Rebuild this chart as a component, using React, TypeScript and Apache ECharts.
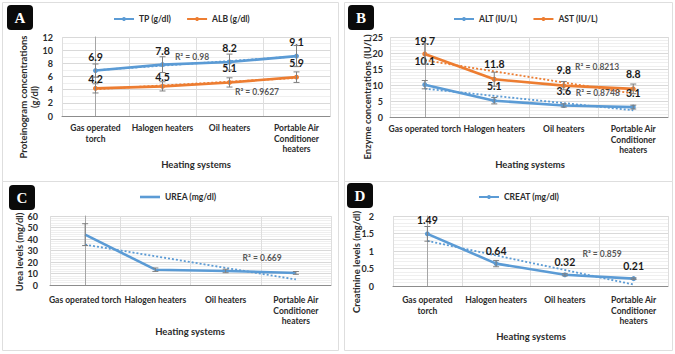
import React, { useEffect, useRef } from "react";
import * as echarts from "echarts";

// Heating systems compared in every panel
const categories = [
  "Gas operated torch",
  "Halogen heaters",
  "Oil heaters",
  "Portable Air Conditioner heaters",
];

// A: proteinogram (g/dl)
const tpValues = [6.9, 7.8, 8.2, 9.1];
const tpErrors = [1.0, 1.2, 1.2, 1.6];
const albValues = [4.2, 4.5, 5.1, 5.9];
const albErrors = [0.7, 0.7, 0.7, 0.8];
const tpR2 = "R² = 0.98";
const albR2 = "R² = 0.9627";

// B: liver enzymes (IU/L)
const altValues = [10.1, 5.1, 3.6, 3.1];
const altErrors = [1.3, 1.0, 0.5, 0.6];
const astValues = [19.7, 11.8, 9.8, 8.8];
const astErrors = [3.2, 2.2, 1.3, 1.5];
const astR2 = "R² = 0.8213";
const altR2 = "R² = 0.8748";

// C: urea (mg/dl)
const ureaValues = [43.8, 13.3, 12.2, 10.5];
const ureaErrors = [9.5, 1.5, 1.5, 1.2];
const ureaR2 = "R² = 0.669";

// D: creatinine (mg/dl)
const creatValues = [1.49, 0.64, 0.32, 0.21];
const creatErrors = [0.21, 0.09, 0.03, 0.02];
const creatR2 = "R² = 0.859";

// Value-axis ranges [max, interval]
const proteinAxis = [12, 2];
const enzymeAxis = [25, 5];
const ureaAxis = [60, 10];
const creatAxis = [2, 0.5];

const BLUE = "#5b9bd5";
const ORANGE = "#ed7d31";
const TEXT = "#2b2b2b";
const LABEL = "#1a1a1a";
const FONT = "Lato, 'Liberation Sans', sans-serif";

type SeriesSpec = {
  name: string;
  values: number[];
  errors: number[];
  color: string;
  symbol: boolean;
  labelGap: number[];
  labelBold: boolean;
};

type PanelSpec = {
  letter: string;
  frame: number[];
  badge: number[];
  grid: { left: number; top: number; width: number; height: number };
  axis: number[];
  minorSplit: number;
  yLabelMargin: number;
  xLabelMargin: number;
  wrapTorch: boolean;
  yName: string;
  yNameAt: number[];
  xNameAt: number[];
  legendAt: number[];
  series: SeriesSpec[];
  r2: { text: string; at: number[] }[];
};

// Least-squares line evaluated at each category position (Excel linear trendline)
function linearFit(values: number[]): number[] {
  const n = values.length;
  const xs = values.map((_, i) => i + 1);
  const mx = xs.reduce((a, b) => a + b, 0) / n;
  const my = values.reduce((a, b) => a + b, 0) / n;
  let sxy = 0;
  let sxx = 0;
  for (let i = 0; i < n; i++) {
    sxy += (xs[i] - mx) * (values[i] - my);
    sxx += (xs[i] - mx) * (xs[i] - mx);
  }
  const slope = sxy / sxx;
  return xs.map((x) => +(my + slope * (x - mx)).toFixed(4));
}

function wrapCategory(name: string, wrapTorch: boolean): string {
  if (name === "Portable Air Conditioner heaters") return "Portable Air\nConditioner\nheaters";
  if (wrapTorch && name === "Gas operated torch") return "Gas operated\ntorch";
  return name;
}

const panels: PanelSpec[] = [
  {
    letter: "A",
    frame: [2.5, 2.5, 336, 179],
    badge: [7, 5],
    grid: { left: 62, top: 37, width: 268, height: 79 },
    axis: proteinAxis,
    minorSplit: 2,
    yLabelMargin: 9,
    xLabelMargin: 7,
    wrapTorch: true,
    yName: "Proteinogram concentrations\n(g/dl)",
    yNameAt: [29, 97],
    xNameAt: [196, 164],
    legendAt: [113, 14.5],
    series: [
      { name: "TP (g/dl)", values: tpValues, errors: tpErrors, color: BLUE, symbol: true, labelGap: [6, 6, 6, 6], labelBold: true },
      { name: "ALB (g/dl)", values: albValues, errors: albErrors, color: ORANGE, symbol: true, labelGap: [1, 1, 6, 6], labelBold: true },
    ],
    r2: [
      { text: tpR2, at: [1.44, 8.96] },
      { text: albR2, at: [2.41, 3.65] },
    ],
  },
  {
    letter: "B",
    frame: [344.5, 2.5, 328, 179],
    badge: [348, 5],
    grid: { left: 390, top: 37, width: 278, height: 80 },
    axis: enzymeAxis,
    minorSplit: 5,
    yLabelMargin: 7,
    xLabelMargin: 7,
    wrapTorch: false,
    yName: "Enzyme concentrations (IU/L)",
    yNameAt: [367, 97],
    xNameAt: [530, 164],
    legendAt: [453, 14.5],
    series: [
      { name: "ALT (IU/L)", values: altValues, errors: altErrors, color: BLUE, symbol: true, labelGap: [16, 7, 6, 6], labelBold: true },
      { name: "AST (IU/L)", values: astValues, errors: astErrors, color: ORANGE, symbol: true, labelGap: [5, 7, 8, 7], labelBold: true },
    ],
    r2: [
      { text: astR2, at: [2.48, 15.6] },
      { text: altR2, at: [2.49, 7.5] },
    ],
  },
  {
    letter: "C",
    frame: [2.5, 181.5, 336, 169],
    badge: [9, 185],
    grid: { left: 50, top: 216, width: 281, height: 69 },
    axis: ureaAxis,
    minorSplit: 5,
    yLabelMargin: 12,
    xLabelMargin: 10,
    wrapTorch: false,
    yName: "Urea levels (mg/dl)",
    yNameAt: [19, 252],
    xNameAt: [190, 331],
    legendAt: [140, 192.5],
    series: [
      { name: "UREA (mg/dl)", values: ureaValues, errors: ureaErrors, color: BLUE, symbol: false, labelGap: [6, 7, 6, 7], labelBold: false },
    ],
    r2: [{ text: ureaR2, at: [2.52, 23.5] }],
  },
  {
    letter: "D",
    frame: [344.5, 181.5, 328, 169],
    badge: [347, 183],
    grid: { left: 393, top: 216, width: 275, height: 70 },
    axis: creatAxis,
    minorSplit: 5,
    yLabelMargin: 19,
    xLabelMargin: 9,
    wrapTorch: true,
    yName: "Creatinine levels (mg/dl)",
    yNameAt: [356, 262],
    xNameAt: [531, 336],
    legendAt: [478, 192.5],
    series: [
      { name: "CREAT (mg/dl)", values: creatValues, errors: creatErrors, color: BLUE, symbol: true, labelGap: [6, 5, 5, 5], labelBold: true },
    ],
    r2: [{ text: creatR2, at: [2.54, 0.91] }],
  },
];

function errorBarItem(params: any, api: any) {
  const x = api.value(0);
  const top = api.coord([x, api.value(2)]);
  const bot = api.coord([x, api.value(1)]);
  const w = 3;
  const style = { stroke: "#7f7f7f", lineWidth: 1 };
  return {
    type: "group",
    children: [
      { type: "line", shape: { x1: top[0], y1: top[1], x2: bot[0], y2: bot[1] }, style },
      { type: "line", shape: { x1: top[0] - w, y1: top[1], x2: top[0] + w, y2: top[1] }, style },
      { type: "line", shape: { x1: bot[0] - w, y1: bot[1], x2: bot[0] + w, y2: bot[1] }, style },
    ],
  };
}

function buildOption() {
  const grid: any[] = [];
  const xAxis: any[] = [];
  const yAxis: any[] = [];
  const legend: any[] = [];
  const series: any[] = [];
  const graphic: any[] = [];

  panels.forEach((p, i) => {
    grid.push({ ...p.grid, containLabel: false });
    xAxis.push({
      type: "category",
      gridIndex: i,
      data: categories,
      boundaryGap: true,
      axisLine: { lineStyle: { color: "#8c8c8c", width: 1 } },
      axisTick: { show: false },
      axisLabel: {
        interval: 0,
        margin: p.xLabelMargin,
        fontSize: 8.5,
        fontWeight: "bold",
        fontFamily: FONT,
        color: TEXT,
        lineHeight: 10.5,
        formatter: (v: string) => wrapCategory(v, p.wrapTorch),
      },
      splitLine: { show: true, interval: 0, lineStyle: { color: "#dedede" } },
    });
    xAxis.push({ type: "value", gridIndex: i, min: -0.5, max: 3.5, show: false });
    yAxis.push({
      type: "value",
      gridIndex: i,
      min: 0,
      max: p.axis[0],
      interval: p.axis[1],
      axisLine: { show: true, lineStyle: { color: "#a6a6a6" } },
      axisTick: { show: false },
      axisLabel: {
        margin: p.yLabelMargin,
        fontSize: 9,
        fontWeight: "bold",
        fontFamily: FONT,
        color: TEXT,
      },
      splitLine: { lineStyle: { color: "#d9d9d9" } },
      minorTick: { show: false, splitNumber: p.minorSplit },
      minorSplitLine: { show: true, lineStyle: { color: "#efefef" } },
    });
    const lineOnly = p.series.every((s) => !s.symbol);
    legend.push({
      data: p.series.map((s) => (lineOnly ? { name: s.name, icon: "rect" } : s.name)),
      left: p.legendAt[0],
      top: p.legendAt[1],
      padding: 0,
      itemWidth: 20,
      itemHeight: lineOnly ? 2.6 : 5,
      itemGap: 15,
      textStyle: { fontSize: 8.5, fontWeight: "bold", fontFamily: FONT, color: TEXT },
    });

    p.series.forEach((s) => {
      series.push({
        type: "line",
        name: s.name + " trendline",
        xAxisIndex: i * 2,
        yAxisIndex: i,
        data: linearFit(s.values),
        symbol: "none",
        silent: true,
        lineStyle: { color: s.color, width: 1.8, type: [2, 2] },
        z: 2,
      });
      series.push({
        type: "line",
        name: s.name,
        xAxisIndex: i * 2,
        yAxisIndex: i,
        data: s.values.map((v, k) => ({ value: v, label: { distance: s.labelGap[k] } })),
        color: s.color,
        symbol: s.symbol ? "circle" : "none",
        symbolSize: 5,
        lineStyle: { color: s.color, width: 2.6 },
        itemStyle: { color: s.color },
        label: {
          show: true,
          position: "top",
          fontSize: 10.5,
          fontWeight: s.labelBold ? "bold" : "normal",
          fontFamily: FONT,
          color: LABEL,
        },
        z: 3,
      });
      series.push({
        type: "custom",
        name: s.name + " error",
        xAxisIndex: i * 2,
        yAxisIndex: i,
        data: s.values.map((v, k) => [k, v - s.errors[k], v + s.errors[k]]),
        encode: { x: 0, y: [1, 2] },
        renderItem: errorBarItem,
        silent: true,
        z: 4,
      });
    });

    series.push({
      type: "scatter",
      name: "r2-" + p.letter,
      xAxisIndex: i * 2 + 1,
      yAxisIndex: i,
      symbolSize: 0,
      silent: true,
      data: p.r2.map((r) => ({ value: r.at, label: { formatter: r.text } })),
      label: {
        show: true,
        position: "inside",
        fontSize: 8.5,
        fontWeight: "bold",
        fontFamily: FONT,
        color: TEXT,
      },
      z: 5,
    });

    graphic.push({
      type: "rect",
      shape: { x: p.frame[0], y: p.frame[1], width: p.frame[2], height: p.frame[3] },
      style: { fill: "none", stroke: "#dedede", lineWidth: 1 },
      silent: true,
      z: -10,
    });
    graphic.push({
      type: "rect",
      shape: { x: p.badge[0], y: p.badge[1], width: 26, height: 25, r: 4 },
      style: { fill: "#0a0a0a" },
      z: 10,
    });
    graphic.push({
      type: "text",
      x: p.badge[0] + 13,
      y: p.badge[1] + 13,
      style: {
        text: p.letter,
        fontSize: 15,
        fontWeight: "bold",
        fontFamily: "'Liberation Serif', 'DejaVu Serif', serif",
        fill: "#ffffff",
        align: "center",
        verticalAlign: "middle",
      },
      z: 11,
    });
    graphic.push({
      type: "text",
      x: p.yNameAt[0],
      y: p.yNameAt[1],
      rotation: Math.PI / 2,
      style: {
        text: p.yName,
        fontSize: 9.5,
        fontWeight: "bold",
        fontFamily: FONT,
        fill: TEXT,
        align: "center",
        verticalAlign: "middle",
        lineHeight: 10.5,
      },
    });
    graphic.push({
      type: "text",
      x: p.xNameAt[0],
      y: p.xNameAt[1],
      style: {
        text: "Heating systems",
        fontSize: 9.5,
        fontWeight: "bold",
        fontFamily: FONT,
        fill: TEXT,
        align: "center",
        verticalAlign: "middle",
      },
    });
  });

  return {
    animation: false,
    backgroundColor: "#ffffff",
    textStyle: { fontFamily: FONT },
    grid,
    xAxis,
    yAxis,
    legend,
    series,
    graphic,
  };
}

export default function App() {
  const ref = useRef<HTMLDivElement>(null);
  useEffect(() => {
    if (!ref.current) return;
    const chart = echarts.init(ref.current, undefined, { renderer: "svg" });
    chart.setOption(buildOption() as any);
    return () => chart.dispose();
  }, []);
  return (
    <div
      ref={ref}
      style={{ position: "fixed", left: 0, top: 0, width: 675, height: 354, background: "#fff" }}
    />
  );
}
